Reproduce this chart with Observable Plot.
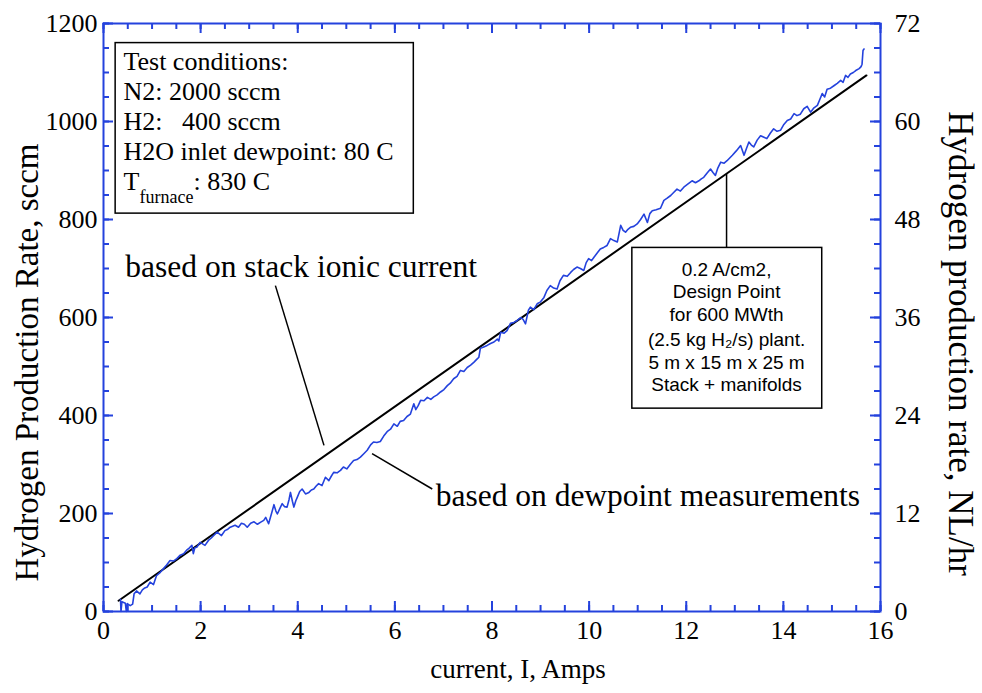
<!DOCTYPE html>
<html><head><meta charset="utf-8">
<script src="https://cdn.jsdelivr.net/npm/d3@7"></script>
<script src="https://cdn.jsdelivr.net/npm/@observablehq/plot@0.6"></script>
<style>body{margin:0;background:#fff;}</style>
</head><body><div id="chart"></div>
<script>
// Measured hydrogen production (dewpoint based), current in A, rate in sccm
const dewX = [0.35,0.36,0.38,0.45,0.47,0.49,0.55,0.60,0.63,0.68,0.75,0.80,0.85,0.90,0.96,1.03,1.09,1.17,1.24,1.30,1.37,1.44,1.51,1.58,1.65,1.72,1.77,1.82,1.85,1.88,1.92,1.99,2.04,2.09,2.16,2.22,2.27,2.34,2.43,2.50,2.56,2.61,2.71,2.78,2.84,2.90,2.96,3.03,3.10,3.17,3.23,3.30,3.34,3.40,3.46,3.51,3.55,3.58,3.64,3.68,3.73,3.78,3.82,3.85,3.89,3.92,3.96,3.99,4.04,4.09,4.16,4.23,4.28,4.33,4.38,4.43,4.50,4.57,4.64,4.69,4.74,4.81,4.88,4.94,5.01,5.08,5.15,5.22,5.29,5.36,5.43,5.50,5.56,5.63,5.70,5.77,5.84,5.91,5.98,6.05,6.11,6.18,6.25,6.32,6.39,6.43,6.48,6.53,6.60,6.67,6.74,6.80,6.87,6.94,7.01,7.08,7.14,7.21,7.28,7.35,7.42,7.49,7.56,7.63,7.68,7.73,7.76,7.83,7.90,7.97,8.04,8.11,8.14,8.18,8.25,8.31,8.38,8.45,8.52,8.59,8.64,8.69,8.75,8.79,8.86,8.93,9.00,9.07,9.13,9.20,9.27,9.34,9.40,9.47,9.55,9.62,9.68,9.75,9.82,9.89,9.94,9.99,10.05,10.10,10.17,10.23,10.30,10.37,10.44,10.51,10.58,10.65,10.70,10.75,10.80,10.85,10.92,10.99,11.06,11.13,11.20,11.25,11.30,11.38,11.47,11.54,11.60,11.68,11.74,11.81,11.88,11.95,12.03,12.12,12.19,12.26,12.31,12.36,12.43,12.50,12.55,12.60,12.65,12.71,12.78,12.84,12.90,12.95,13.03,13.12,13.19,13.24,13.29,13.34,13.39,13.46,13.53,13.60,13.66,13.73,13.80,13.87,13.94,14.01,14.08,14.15,14.22,14.28,14.35,14.42,14.49,14.56,14.63,14.70,14.75,14.80,14.85,14.90,14.97,15.04,15.11,15.18,15.23,15.28,15.33,15.38,15.44,15.49,15.56,15.60,15.62,15.64,15.66];
const dewY = [25,0,20,17,0,16,12,15,36,42,36,44,48,50,60,55,73,80,88,95,104,103,108,115,118,126,130,135,118,130,131,141,138,135,145,150,155,162,155,165,168,172,176,172,180,178,172,180,183,178,182,186,192,179,200,218,205,199,212,220,214,213,228,243,225,213,226,233,245,250,240,243,248,250,256,261,257,274,267,276,284,283,288,295,291,300,308,310,315,322,329,340,346,345,347,358,367,372,383,378,388,390,398,403,424,412,420,431,430,437,433,438,442,448,453,461,466,475,480,492,490,498,503,509,514,519,537,540,543,547,550,556,552,570,568,573,588,590,594,600,596,587,615,621,616,628,632,641,655,665,660,658,675,686,684,692,698,703,700,696,712,720,716,723,732,740,743,747,761,757,754,788,778,774,780,784,786,791,800,811,794,812,818,820,823,839,843,849,855,862,858,866,872,879,875,879,883,886,895,903,896,890,905,917,915,920,926,931,940,951,931,945,958,952,948,962,971,968,965,976,985,980,982,994,1002,1005,1016,1012,1015,1026,1031,1019,1028,1033,1045,1057,1050,1066,1068,1073,1078,1084,1080,1094,1090,1097,1100,1104,1108,1112,1117,1145,1148];
// Rate based on stack ionic current (straight line end points)
const ionicX = [0.31, 15.71];
const ionicY = [22, 1094];

const xTicks = [0,2,4,6,8,10,12,14,16];
const xMinorTicks = [0,0.5,1,1.5,2,2.5,3,3.5,4,4.5,5,5.5,6,6.5,7,7.5,8,8.5,9,9.5,10,10.5,11,11.5,12,12.5,13,13.5,14,14.5,15,15.5,16];
const yTicks = [0,200,400,600,800,1000,1200];
const yMinorTicks = [0,50,100,150,200,250,300,350,400,450,500,550,600,650,700,750,800,850,900,950,1000,1050,1100,1150,1200];
const rightTickLabels = [0,12,24,36,48,60,72];

const testLines = ["Test conditions:", "N2: 2000 sccm", "H2:\u00a0\u00a0\u00a0400 sccm", "H2O inlet dewpoint: 80 C"];
const testLineY = [1123, 1060, 999, 938];
const designLines = ["0.2 A/cm2,", "Design Point", "for 600 MWth", "(2.5 kg H\u2082/s) plant.", "5 m x 15 m x 25 m", "Stack + manifolds"];
const designLineY = [698, 653, 606, 555, 508, 463];

const blue = "#2442dd";
const serif = "'Liberation Serif','Times New Roman',serif";
const sans = "'Liberation Sans',Arial,sans-serif";

const W = 982, H = 693, ML = 103, MR = 102, MT = 23, MB = 82;
const PW = W - ML - MR, PH = H - MT - MB;
const xDom = [0, 16], yDom = [0, 1200];
// tick lengths in pixels, converted to data units for the rule marks
const majorPx = 10, minorPx = 6;
const xLen = px => px * (xDom[1] - xDom[0]) / PW;
const yLen = px => px * (yDom[1] - yDom[0]) / PH;

const dew = dewX.map((x, i) => ({x, y: dewY[i]}));
const ionic = ionicX.map((x, i) => ({x, y: ionicY[i]}));

const tickStyle = {stroke: blue, strokeWidth: 2};
function xTickRules(ticks, px) {
  return [
    Plot.ruleX(ticks, {x: d => d, y1: yDom[0], y2: yDom[0] + yLen(px), ...tickStyle}),
    Plot.ruleX(ticks, {x: d => d, y1: yDom[1] - yLen(px), y2: yDom[1], ...tickStyle})
  ];
}
function yTickRules(ticks, px) {
  return [
    Plot.ruleY(ticks, {y: d => d, x1: xDom[0], x2: xDom[0] + xLen(px), ...tickStyle}),
    Plot.ruleY(ticks, {y: d => d, x1: xDom[1] - xLen(px), x2: xDom[1], ...tickStyle})
  ];
}

const chart = Plot.plot({
  width: W, height: H,
  marginLeft: ML, marginRight: MR, marginTop: MT, marginBottom: MB,
  style: {fontFamily: serif, fontSize: "26px", color: "black", background: "white"},
  x: {domain: xDom, label: null},
  y: {domain: yDom, label: null},
  marks: [
    // boxes
    Plot.rect([0], {x1: 0.25, x2: 6.39, y1: 812, y2: 1160, fill: "white", stroke: "black", strokeWidth: 1.5}),
    Plot.text(testLines, {x: 0.41, y: (d, i) => testLineY[i], text: d => d, textAnchor: "start", fontSize: 26, fontFamily: serif}),
    Plot.text(["T"], {x: 0.41, y: 877, textAnchor: "start", fontSize: 26, fontFamily: serif}),
    Plot.text(["furnace"], {x: 0.41, y: 845, dx: 16, textAnchor: "start", fontSize: 18, fontFamily: serif}),
    Plot.text([": 830 C"], {x: 0.41, y: 877, dx: 70, textAnchor: "start", fontSize: 26, fontFamily: serif}),

    // data lines
    Plot.line(ionic, {x: "x", y: "y", stroke: "black", strokeWidth: 2}),
    Plot.line(dew, {x: "x", y: "y", stroke: blue, strokeWidth: 1.6}),

    // leaders
    Plot.link([0], {x1: 3.54, y1: 665, x2: 4.54, y2: 339, stroke: "black", strokeWidth: 1.5}),
    Plot.link([0], {x1: 5.53, y1: 322, x2: 6.77, y2: 250, stroke: "black", strokeWidth: 1.5}),
    Plot.link([0], {x1: 12.83, y1: 742, x2: 12.83, y2: 893, stroke: "black", strokeWidth: 1.5}),
    Plot.text(["based on stack ionic current"], {x: 0.45, y: 704, textAnchor: "start", fontSize: 31.5, fontFamily: serif}),
    Plot.text(["based on dewpoint measurements"], {x: 6.84, y: 235, textAnchor: "start", fontSize: 31.5, fontFamily: serif}),

    Plot.rect([0], {x1: 10.89, x2: 14.8, y1: 414, y2: 742, fill: "white", stroke: "black", strokeWidth: 1.5}),
    Plot.text(designLines, {x: 12.83, y: (d, i) => designLineY[i], text: d => d, fontSize: 19, fontFamily: sans}),

    // inward ticks on all four sides
    ...xTickRules(xMinorTicks, minorPx),
    ...xTickRules(xTicks, majorPx),
    ...yTickRules(yMinorTicks, minorPx),
    ...yTickRules(yTicks, majorPx),
    Plot.frame({stroke: blue, strokeWidth: 2}),

    // tick labels
    Plot.axisX(xTicks, {anchor: "bottom", tickSize: 0, tickPadding: 9, label: null, fill: "black", tickFormat: d => String(d)}),
    Plot.axisY(yTicks, {anchor: "left", tickSize: 0, tickPadding: 6, label: null, fill: "black", tickFormat: d => String(d)}),
    Plot.axisY(yTicks, {anchor: "right", tickSize: 0, tickPadding: 14, label: null, fill: "black",
      tickFormat: d => String(rightTickLabels[yTicks.indexOf(d)])}),

    // axis titles
    Plot.text(["current, I, Amps"], {frameAnchor: "bottom", dx: 26, dy: 66, fontSize: 27, fontFamily: serif}),
    Plot.text(["Hydrogen Production Rate, sccm"], {frameAnchor: "left", textAnchor: "middle", dx: -76, dy: 45, rotate: -90, fontSize: 33, fontFamily: serif}),
    Plot.text(["Hydrogen production rate, NL/hr"], {frameAnchor: "right", textAnchor: "middle", dx: 80, dy: 26, rotate: 90, fontSize: 35, fontFamily: serif})
  ]
});
document.getElementById("chart").appendChild(chart);
</script>
</body></html>
